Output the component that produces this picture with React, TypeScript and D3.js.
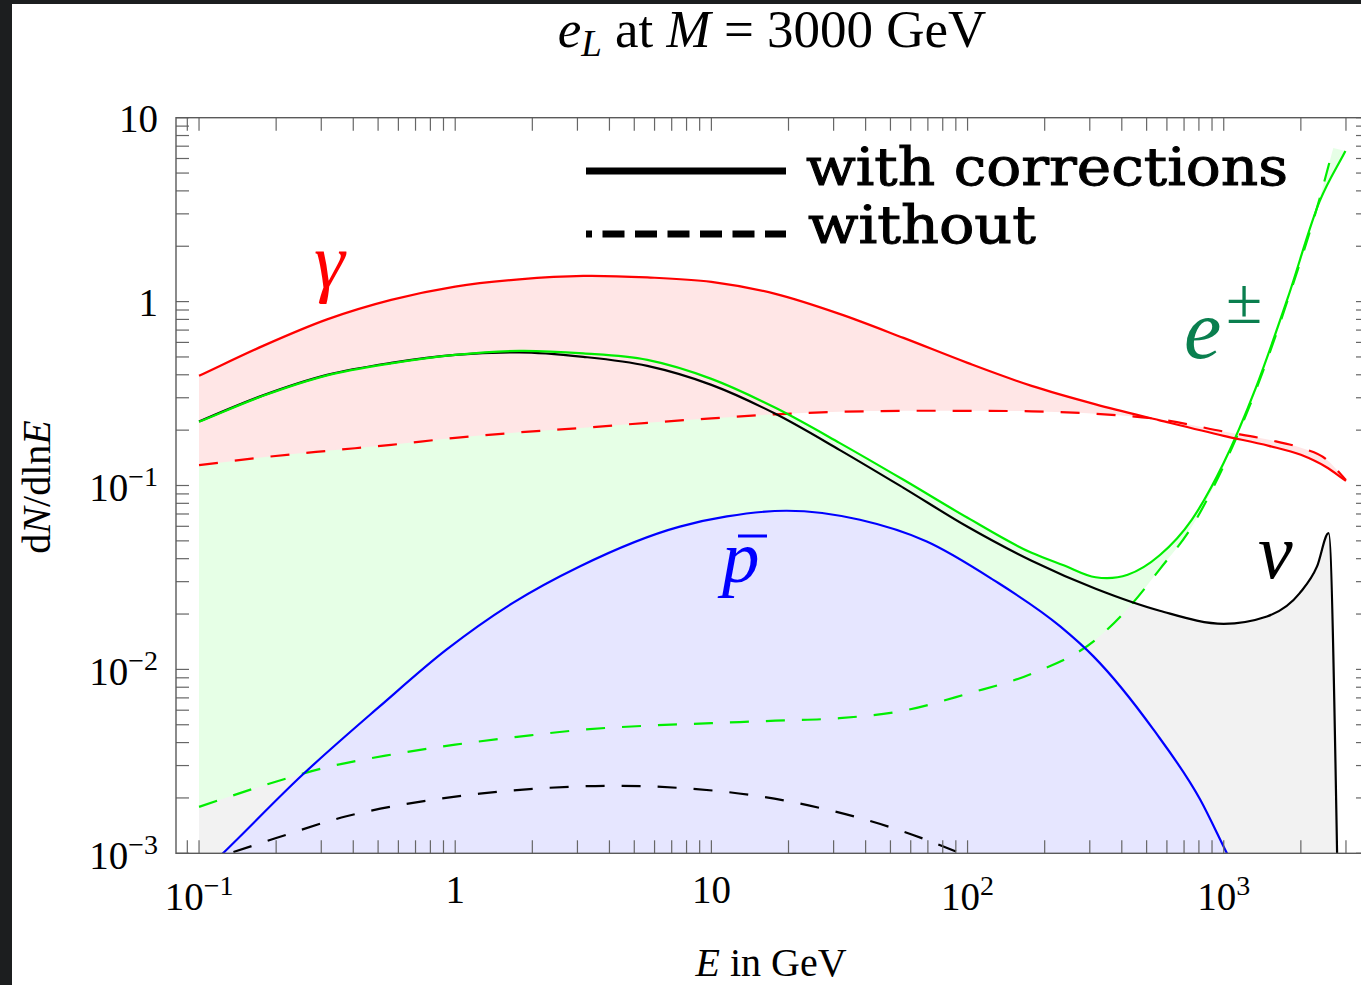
import React from "react";
import * as d3 from "d3";

// ---------- data (E in GeV, dN/dlnE) ----------
const GAMMA_WITH_E = [0.1, 0.1778, 0.3162, 0.5623, 1, 1.778, 3.162, 5.623, 10, 17.78, 31.62, 56.23, 100, 177.8, 316.2, 562.3, 1000, 1500, 2000, 2500, 3000];
const GAMMA_WITH_V = [0.3947, 0.5744, 0.8002, 1.0215, 1.2063, 1.3204, 1.3793, 1.3535, 1.2796, 1.1011, 0.8573, 0.6349, 0.4643, 0.3481, 0.2763, 0.2261, 0.1862, 0.1643, 0.1468, 0.1264, 0.106];

const GAMMA_WO_E = [0.1, 0.1778, 0.3162, 0.5623, 1, 1.778, 3.162, 5.623, 10, 17.78, 31.62, 56.23, 100, 177.8, 316.2, 562.3, 1000, 1500, 2000, 2500, 3000];
const GAMMA_WO_V = [0.129, 0.1423, 0.1543, 0.1664, 0.1816, 0.1945, 0.2059, 0.2192, 0.2318, 0.2438, 0.2515, 0.2547, 0.2547, 0.2531, 0.2453, 0.229, 0.1965, 0.1772, 0.1603, 0.1397, 0.107];

const EPM_WITH_E = [0.1, 0.1778, 0.3162, 0.5623, 1, 1.778, 3.162, 5.623, 10, 17.78, 31.62, 56.23, 100, 177.8, 237.1, 316.2, 421.7, 562.3, 749.9, 1000, 1334, 1778, 2371, 2985];
const EPM_WITH_V = [0.2219, 0.3073, 0.3971, 0.4614, 0.5132, 0.5397, 0.5229, 0.4821, 0.3801, 0.2644, 0.1706, 0.1074, 0.06674, 0.04307, 0.03683, 0.0317, 0.03271, 0.04175, 0.0651, 0.1328, 0.3396, 1.0474, 3.526, 6.592];

const EPM_WO_E = [0.1, 0.1778, 0.3162, 0.5623, 1, 1.778, 3.162, 5.623, 10, 17.78, 31.62, 56.23, 100, 177.8, 316.2, 421.7, 562.3, 749.9, 1000, 1334, 1778, 2371, 2677];
const EPM_WO_V = [0.001788, 0.002333, 0.00294, 0.003439, 0.003898, 0.004308, 0.004703, 0.004943, 0.0051, 0.005262, 0.00543, 0.005963, 0.007378, 0.009475, 0.0145, 0.02138, 0.035, 0.05964, 0.128, 0.3295, 1.0215, 3.662, 6.844];

const NU_WITH_E = [0.1, 0.1778, 0.3162, 0.5623, 1, 1.778, 3.162, 5.623, 10, 17.78, 31.62, 56.23, 100, 177.8, 316.2, 562.3, 1000, 1474, 1980, 2313, 2567, 2770];
const NU_WITH_V = [0.2227, 0.3092, 0.3996, 0.4643, 0.5132, 0.5296, 0.5006, 0.4473, 0.3526, 0.2453, 0.1563, 0.0971, 0.05963, 0.03898, 0.02745, 0.02085, 0.0177, 0.0194, 0.026, 0.0363, 0.0551, 0.001];

const NU_WO_E = [0.1, 0.1315, 0.2, 0.376, 0.684, 1.246, 2.27, 4.13, 7.53, 15.5, 28.2, 51.3, 93.5, 134];
const NU_WO_V = [0.00089, 0.001, 0.00121, 0.00159, 0.00188, 0.00211, 0.002267, 0.00233, 0.002267, 0.00204, 0.00173, 0.00137, 0.001, 0.0008];

const PBAR_E = [0.1, 0.124, 0.254, 0.507, 0.924, 1.68, 3.06, 7.53, 11.5, 19.7, 38, 69.3, 126, 230, 310, 532, 809, 1029, 1160];
const PBAR_V = [0.00075, 0.001, 0.00268, 0.00629, 0.0128, 0.023, 0.0363, 0.0598, 0.0679, 0.0729, 0.0651, 0.0496, 0.0307, 0.01713, 0.01177, 0.0047, 0.00196, 0.001, 0.00072];

const X_TICK_LABELS = [
  { v: 0.1, base: "10", sup: "\u22121" },
  { v: 1, base: "1", sup: "" },
  { v: 10, base: "10", sup: "" },
  { v: 100, base: "10", sup: "2" },
  { v: 1000, base: "10", sup: "3" },
];
const Y_TICK_LABELS = [
  { v: 10, base: "10", sup: "" },
  { v: 1, base: "1", sup: "" },
  { v: 0.1, base: "10", sup: "\u22121" },
  { v: 0.01, base: "10", sup: "\u22122" },
  { v: 0.001, base: "10", sup: "\u22123" },
];

const X_DOMAIN = [0.0813, 3690];
const Y_DOMAIN = [1e-3, 10];

const W = 1361;
const H = 985;
const PL = 176, PR = 1369, PT = 117.7, PB = 853.3;
const SERIF = "'Liberation Serif', 'Times New Roman', serif";
const TT = "'DejaVu Serif Condensed', 'DejaVu Serif', serif";

type P = [number, number];
const zip = (a: number[], b: number[]): P[] => a.map((e, i) => [e, b[i]] as P);

export default function App() {
  const x = d3.scaleLog().domain(X_DOMAIN).range([PL, PR]);
  const y = d3.scaleLog().domain(Y_DOMAIN).range([PB, PT]);
  const lineM = d3.line<P>().x((d) => x(d[0])).y((d) => y(d[1])).curve(d3.curveMonotoneX);
  const areaM = d3.area<P>().x((d) => x(d[0])).y0(PB).y1((d) => y(d[1])).curve(d3.curveMonotoneX);

  // smooth functional Hermite spline through the scaled points
  const hermite = (pts: P[], reverse = false, start = "M"): string => {
    const X = pts.map((p) => x(p[0]));
    const Y = pts.map((p) => y(p[1]));
    const n = X.length;
    const m: number[] = [];
    for (let i = 0; i < n; i++) {
      if (i === 0) m.push((Y[1] - Y[0]) / (X[1] - X[0]));
      else if (i === n - 1) m.push((Y[n - 1] - Y[n - 2]) / (X[n - 1] - X[n - 2]));
      else {
        const h0 = X[i] - X[i - 1], h1 = X[i + 1] - X[i];
        const d0 = (Y[i] - Y[i - 1]) / h0, d1 = (Y[i + 1] - Y[i]) / h1;
        m.push((h1 * d0 + h0 * d1) / (h0 + h1));
      }
    }
    const p = d3.path();
    if (!reverse) {
      if (start === "M") p.moveTo(X[0], Y[0]); else p.lineTo(X[0], Y[0]);
      for (let i = 0; i < n - 1; i++) {
        const h = X[i + 1] - X[i];
        p.bezierCurveTo(X[i] + h / 3, Y[i] + (m[i] * h) / 3, X[i + 1] - h / 3, Y[i + 1] - (m[i + 1] * h) / 3, X[i + 1], Y[i + 1]);
      }
    } else {
      if (start === "M") p.moveTo(X[n - 1], Y[n - 1]); else p.lineTo(X[n - 1], Y[n - 1]);
      for (let i = n - 1; i > 0; i--) {
        const h = X[i] - X[i - 1];
        p.bezierCurveTo(X[i] - h / 3, Y[i] - (m[i] * h) / 3, X[i - 1] + h / 3, Y[i - 1] + (m[i - 1] * h) / 3, X[i - 1], Y[i - 1]);
      }
    }
    return p.toString();
  };
  const band = (a: P[], b: P[]) => hermite(a) + hermite(b, true, "L") + "Z";
  const under = (a: P[]) => {
    const s = hermite(a);
    return s + `L${x(a[a.length - 1][0])},${PB}L${x(a[0][0])},${PB}Z`;
  };

  const gW = zip(GAMMA_WITH_E, GAMMA_WITH_V);
  const gO = zip(GAMMA_WO_E, GAMMA_WO_V);
  const eW = zip(EPM_WITH_E, EPM_WITH_V);
  const eO = zip(EPM_WO_E, EPM_WO_V);
  const nW = zip(NU_WITH_E, NU_WITH_V);
  const nO = zip(NU_WO_E, NU_WO_V);
  const pB = zip(PBAR_E, PBAR_V);

  const xt: number[] = [];
  for (let n = -2; n <= 3; n++) for (let k = 1; k <= 9; k++) {
    const v = k * Math.pow(10, n);
    if (v >= X_DOMAIN[0] && v <= X_DOMAIN[1]) xt.push(v);
  }
  const yt: number[] = [];
  for (let n = -3; n <= 1; n++) for (let k = 1; k <= 9; k++) {
    const v = k * Math.pow(10, n);
    if (v >= Y_DOMAIN[0] * 0.999 && v <= Y_DOMAIN[1] * 1.001) yt.push(v);
  }
  const TL = 13;
  const tickColor = "#666";
  const dash = "19 17";
  const lw = 2.2;

  return (
    <svg width={W} height={H} style={{ position: "absolute", left: 0, top: 0 }} xmlns="http://www.w3.org/2000/svg">
      <defs>
        <clipPath id="plotclip">
          <rect x={PL} y={PT} width={PR - PL} height={PB - PT} />
        </clipPath>
      </defs>
      <rect x={0} y={0} width={W} height={H} fill="#1c1e1f" />
      <rect x={12} y={4} width={W - 12} height={H - 4} fill="#ffffff" />

      {/* fills */}
      <g clipPath="url(#plotclip)">
        <path d={areaM(nW) as string} fill="#f2f2f2" />
        <path d={band(eW, eO)} fill="#e6ffe6" />
        <path d={under(pB)} fill="#e6e6ff" />
        <path d={band(gW, gO)} fill="#ffe6e6" />
        {/* lines */}
        <path d={hermite(nO)} fill="none" stroke="#000" strokeWidth={lw} strokeDasharray={dash} />
        <path d={hermite(eO)} fill="none" stroke="#00ee00" strokeWidth={lw} strokeDasharray={dash} />
        <path d={hermite(gO)} fill="none" stroke="#ff0000" strokeWidth={lw} strokeDasharray={dash} />
        <path d={hermite(pB)} fill="none" stroke="#0000ff" strokeWidth={lw} />
        <path d={lineM(nW) as string} fill="none" stroke="#000" strokeWidth={lw} />
        <path d={hermite(eW)} fill="none" stroke="#00ee00" strokeWidth={lw} />
        <path d={hermite(gW)} fill="none" stroke="#ff0000" strokeWidth={lw} />
      </g>

      {/* frame and ticks */}
      <g stroke={tickColor} strokeWidth={1.2}>
        {xt.map((v, i) => (
          <g key={"xt" + i}>
            <line x1={x(v)} x2={x(v)} y1={PB} y2={PB - TL} />
            <line x1={x(v)} x2={x(v)} y1={PT} y2={PT + TL} />
          </g>
        ))}
        {yt.map((v, i) => (
          <g key={"yt" + i}>
            <line x1={PL} x2={PL + TL} y1={y(v)} y2={y(v)} />
            <line x1={PR} x2={PR - TL} y1={y(v)} y2={y(v)} />
          </g>
        ))}
      </g>
      <rect x={PL} y={PT} width={PR - PL} height={PB - PT} fill="none" stroke="#5a5a5a" strokeWidth={1.4} />

      {/* tick labels */}
      <g fontFamily={SERIF} fill="#000">
        {X_TICK_LABELS.map((t, i) => (
          <text key={"xl" + i} x={x(t.v)} y={t.sup ? 910 : 903} textAnchor="middle" fontSize={39}>
            {t.base}
            {t.sup ? <tspan fontSize={28} dy={-15}>{t.sup}</tspan> : null}
          </text>
        ))}
        {Y_TICK_LABELS.map((t, i) => (
          <text key={"yl" + i} x={158} y={y(t.v) + (t.sup ? 15.5 : 14)} textAnchor="end" fontSize={39}>
            {t.base}
            {t.sup ? <tspan fontSize={28} dy={-15}>{t.sup}</tspan> : null}
          </text>
        ))}
      </g>

      {/* title */}
      <text x={772} y={47} textAnchor="middle" fontFamily={SERIF} fontSize={53} fill="#000">
        <tspan fontStyle="italic">e</tspan>
        <tspan fontStyle="italic" fontSize={37} dy={9}>L</tspan>
        <tspan dy={-9}>{" at "}</tspan>
        <tspan fontStyle="italic">M</tspan>
        <tspan>{" = 3000 GeV"}</tspan>
      </text>

      {/* axis labels */}
      <text x={771} y={976} textAnchor="middle" fontFamily={SERIF} fontSize={40} fill="#000">
        <tspan fontStyle="italic">E</tspan>
        <tspan>{" in GeV"}</tspan>
      </text>
      <text transform="translate(50,487) rotate(-90)" textAnchor="middle" fontFamily={SERIF} fontSize={40} fill="#000">
        <tspan>d</tspan>
        <tspan fontStyle="italic">N</tspan>
        <tspan>/dln</tspan>
        <tspan fontStyle="italic">E</tspan>
      </text>

      {/* legend */}
      <line x1={586} x2={786} y1={171} y2={171} stroke="#000" strokeWidth={7} />
      <line x1={586} x2={786} y1={234} y2={234} stroke="#000" strokeWidth={7} strokeDasharray="22 10.5" strokeDashoffset={16} />
      <text x={806} y={185} fontFamily={TT} fontSize={53} textLength={482} lengthAdjust="spacingAndGlyphs" fill="#000" stroke="#000" strokeWidth={0.9}>with corrections</text>
      <text x={808} y={243} fontFamily={TT} fontSize={53} textLength={228} lengthAdjust="spacingAndGlyphs" fill="#000" stroke="#000" strokeWidth={0.9}>without</text>

      {/* curve labels */}
      <text x={314} y={287} fontFamily={SERIF} fontStyle="italic" fontSize={78} fill="#ff0000">γ</text>
      <text x={1184} y={358} fontFamily={SERIF} fontStyle="italic" fontSize={84} fill="#0a7f4f">e</text>
      <text x={1226} y={323} fontFamily={SERIF} fontSize={66} fill="#0a7f4f">±</text>
      <text x={722} y={582} fontFamily={SERIF} fontStyle="italic" fontSize={75} fill="#0000ff">p</text>
      <rect x={738} y={534.5} width={29} height={3} fill="#0000ff" />
      <text x={1258} y={578} fontFamily={SERIF} fontStyle="italic" fontSize={78} fill="#000">ν</text>
    </svg>
  );
}
